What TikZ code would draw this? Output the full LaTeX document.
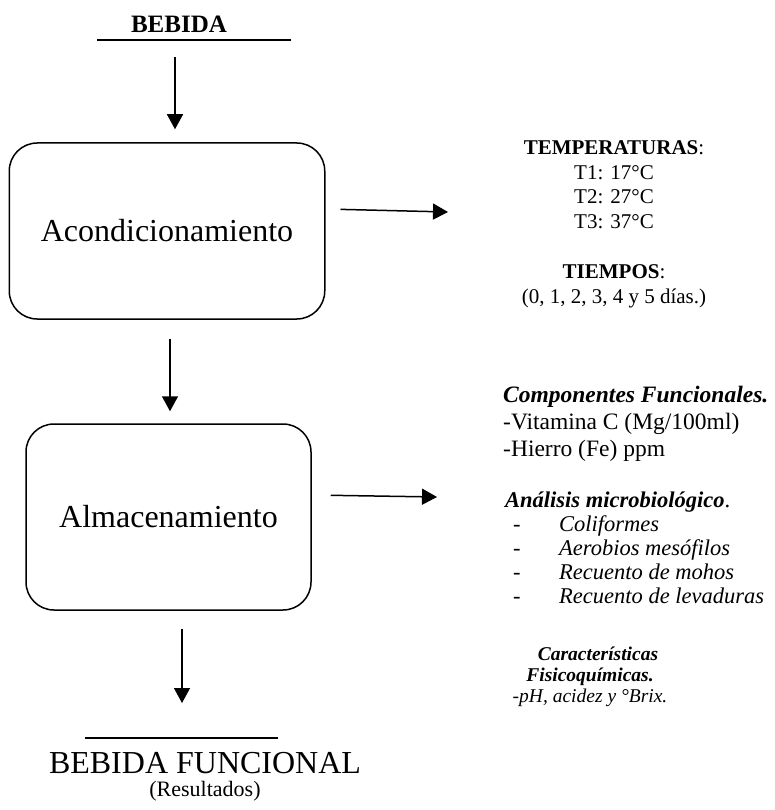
\documentclass[tikz,border=0pt]{standalone}
\usepackage{fontspec}
\setmainfont{Liberation Serif}
\usetikzlibrary{positioning,arrows.meta,calc}
\newcommand{\guion}{\makebox[54pt][l]{\hspace*{8pt}-}}
\tikzset{
  etapa/.style={draw, line width=1.5pt, rounded corners=28pt, inner sep=0pt,
                font=\fontsize{32}{38}\selectfont},
  flecha/.style={line width=1.5pt, -{Triangle[length=15pt,width=16pt]}},
  raya/.style={line width=1.2pt},
  nota/.style={inner sep=0pt, align=left, anchor=base west},
}
\begin{document}
\begin{tikzpicture}[x=1pt,y=-1pt]
  \useasboundingbox (0,0) rectangle (774,810);

  % entrada
  \node (bebida) [inner sep=0pt, anchor=base, font=\fontsize{25}{30}\selectfont\bfseries]
        at (179,33) {BEBIDA};
  \coordinate (bl) at (97,40);
  \coordinate (br) at (291,40);
  \draw[raya] (bl) -- (br);

  % etapas
  \node (acond) [etapa, minimum width=315.5pt, minimum height=176pt] at (167,231)
        {Acondicionamiento};
  \node (almac) [etapa, minimum width=285pt, minimum height=186pt] at (168.5,517)
        {Almacenamiento};

  % salida
  \coordinate (fl) at (85,738);
  \coordinate (fr) at (278,738);
  \draw[raya] (fl) -- (fr);
  \node (funcional) [inner sep=0pt, anchor=base, font=\fontsize{32}{38}\selectfont]
        at (205,773) {BEBIDA FUNCIONAL};
  \node (resultados) [inner sep=0pt, anchor=base, font=\fontsize{22}{25}\selectfont]
        at (205,796) {(Resultados)};

  % flechas verticales
  \draw[flecha, shorten <=24pt, shorten >=13pt]
       ([xshift=-4pt]bebida.south) -- ([xshift=8pt]acond.north);
  \draw[flecha, shorten <=19pt, shorten >=12pt]
       ([xshift=3pt]acond.south) -- ([xshift=1.5pt]almac.north);
  \draw[flecha, shorten <=18pt, shorten >=35pt]
       ([xshift=13.5pt]almac.south) -- ([xshift=13.5pt]almac.south |- fl);

  % flechas laterales
  \coordinate (f1) at (448,212);
  \coordinate (f2) at (437,497);
  \draw[flecha, shorten <=15pt] ([yshift=22pt]acond.east) -- (f1);
  \draw[flecha, shorten <=19pt] ([yshift=22pt]almac.east) -- (f2);

  % condiciones (base = ultima linea)
  \node (condic) [inner sep=0pt, align=center, anchor=base,
                  font=\fontsize{21}{24.8}\selectfont] at (614,303)
        {\textbf{TEMPERATURAS}:\\ T1: 17°C\\ T2: 27°C\\ T3: 37°C\\[24.8pt]
         \textbf{TIEMPOS}:\\ (0, 1, 2, 3, 4 y 5 días.)};

  % analisis
  \node (compon) [nota, font=\fontsize{23.5}{27}\selectfont] at (503,456)
        {\textbf{\textit{Componentes Funcionales.}}\\ -Vitamina C (Mg/100ml)\\
         -Hierro (Fe) ppm};
  \node (micro) [nota, font=\fontsize{22.5}{24}\selectfont] at (505,603)
        {\textbf{\textit{Análisis microbiológico}}.\\
         \guion\textit{Coliformes}\\
         \guion\textit{Aerobios mesófilos}\\
         \guion\textit{Recuento de mohos}\\
         \guion\textit{Recuento de levaduras}};
  \node (fisico) [inner sep=0pt, align=center, anchor=base,
                  font=\fontsize{19.5}{21}\selectfont] at (590,702)
        {\hspace*{16pt}\textbf{\textit{Características}}\\
         \textbf{\textit{Fisicoquímicas.}}\\
         \textit{-pH, acidez y °Brix.}};
\end{tikzpicture}
\end{document}
